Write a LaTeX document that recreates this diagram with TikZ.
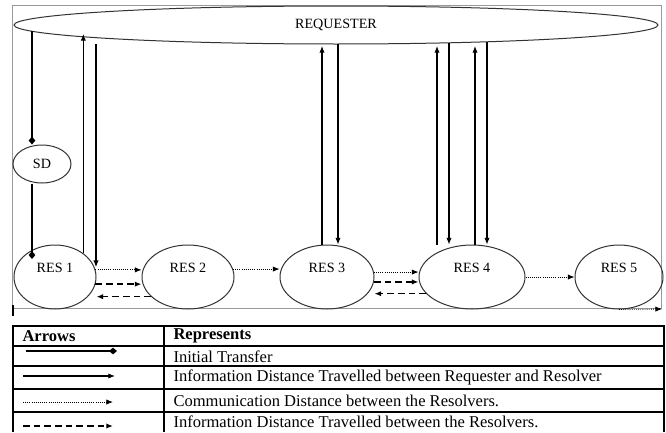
\documentclass[tikz,border=0pt]{standalone}
\usepackage{fontspec}
\setmainfont{Liberation Serif}
\usetikzlibrary{shapes.geometric,arrows.meta}

\tikzset{every picture/.style={line width=0.75pt}}
\tikzset{
  resolver/.style={draw=black!80, ellipse, inner sep=0pt, font=\fontsize{10.6}{12}\selectfont},
  reslbl/.style={text depth=13.5pt},
  initial/.style={line width=1.9pt, -{Diamond[length=6pt,width=5pt]}},
  info/.style={line width=0.8pt, -{Latex[length=5pt,width=4pt]}},
  comm/.style={line width=0.6pt, densely dotted, -{Latex[length=5pt,width=4pt]}},
  infod/.style={line width=1.1pt, dash pattern=on 5pt off 3pt, -{Latex[length=5pt,width=4pt]}},
  tabline/.style={line width=1.2pt},
  tabtxt/.style={anchor=west, inner sep=0.75pt, font=\fontsize{12.4}{14}\selectfont},
  tabhead/.style={tabtxt, font=\fontsize{12.4}{14}\selectfont\bfseries},
}

\begin{document}
\begin{tikzpicture}[x=0.75pt,y=0.75pt,yscale=-1,xscale=1]
\useasboundingbox (0,0) rectangle (666,432);

%Shape: Rectangle
\draw [color=black!40] (12,5) rectangle (661,308);
%Straight Lines
\draw [line width=1.5pt] (13,305) -- (13,316);

%Shape: Ellipse
\node [resolver, minimum width=483pt, minimum height=28.5pt] (req) at (336,25) {REQUESTER};
%Shape: Ellipse
\node [resolver, minimum width=43.5pt, minimum height=28.5pt] (sd) at (42,164) {SD};
%Shape: Ellipse
\node [resolver, reslbl, minimum width=61.5pt, minimum height=48pt] (r1) at (55,277) {RES 1};
%Shape: Ellipse
\node [resolver, reslbl, minimum width=69pt, minimum height=48pt] (r2) at (188,277) {RES 2};
%Shape: Ellipse
\node [resolver, reslbl, minimum width=70.5pt, minimum height=48pt] (r3) at (327,277) {RES 3};
%Shape: Ellipse
\node [resolver, reslbl, minimum width=79.5pt, minimum height=48pt] (r4) at (472,277) {RES 4};
%Shape: Ellipse
\node [resolver, reslbl, minimum width=66pt, minimum height=48pt] (r5) at (619,277) {RES 5};

% ends on the requester
\coordinate (t0) at (32,31);
\coordinate (t1) at (32,259);
\coordinate (q1) at (83,34);
\coordinate (q2) at (96,44);
\coordinate (q3) at (322,46);
\coordinate (q4) at (338,44);
\coordinate (q5) at (437,46);
\coordinate (q6) at (449,43);
\coordinate (q7) at (475,46);
\coordinate (q8) at (487,42);
\coordinate (e5) at (662,309);

%Straight Lines
\draw [initial] (t0) -- (t0 |- sd.north);
\draw [initial] (t0 |- sd.south) -- (t1);
%Straight Lines
\draw [info] (r1.40) -- (r1.40 |- q1);
\draw [info] (q2) -- (q2 |- r1.14);
\draw [info] (q3 |- r3.north) -- (q3);
\draw [info] (q4) -- (q4 |- r3.north);
\draw [info] (q5 |- r4.north) -- (q5);
\draw [info] (q6) -- (q6 |- r4.north);
\draw [info] (q7 |- r4.north) -- (q7);
\draw [info] (q8) -- (q8 |- r4.north);
%Straight Lines
\draw [comm] (r1.10) -- (r1.10 -| r2.west);
\draw [comm] (r2.10) -- (r2.10 -| r3.west);
\draw [comm] (r3.6) -- (r3.6 -| r4.west);
\draw [comm] (r4.east) -- (r5.west);
\draw [comm] (r5.south) -- (e5);
%Straight Lines
\draw [infod] (r1.-10) -- (r1.-10 -| r2.west);
\draw [infod] (r2.208) -- (r2.208 -| r1.east);
\draw [infod] (r3.-6) -- (r3.-6 -| r4.west);
\draw [infod] (r4.200) -- (r4.200 -| r3.east);

%Table
\draw [tabline] (13,432) -- (13,326) -- (664,326) -- (664,432);
\draw [tabline] (164,326) -- (164,432);
\draw [tabline] (13,346) -- (664,346);
\draw [tabline] (13,366) -- (664,366);
\draw [tabline] (13,389) -- (664,389);
\draw [tabline] (13,412) -- (664,412);

%Straight Lines
\draw [initial] (26,351) -- (117,351);
\draw [info] (23,376) -- (115,376);
\draw [comm] (23,402) -- (113,402);
\draw [infod] (23,426) -- (113,426);

% Text Node
\node [tabhead] (hArr) at (21,336) {Arrows};
% Text Node
\node [tabhead] (hRep) at (172,336) {Represents};
% Text Node
\node [tabtxt] (tInit) at (172,357) {Initial Transfer};
% Text Node
\node [tabtxt] (tReq) at (172,377.5) {Information Distance Travelled between Requester and Resolver};
% Text Node
\node [tabtxt] (tComm) at (172,400.5) {Communication Distance between the Resolvers.};
% Text Node
\node [tabtxt] (tRes) at (172,422) {Information Distance Travelled between the Resolvers.};

\end{tikzpicture}
\end{document}
